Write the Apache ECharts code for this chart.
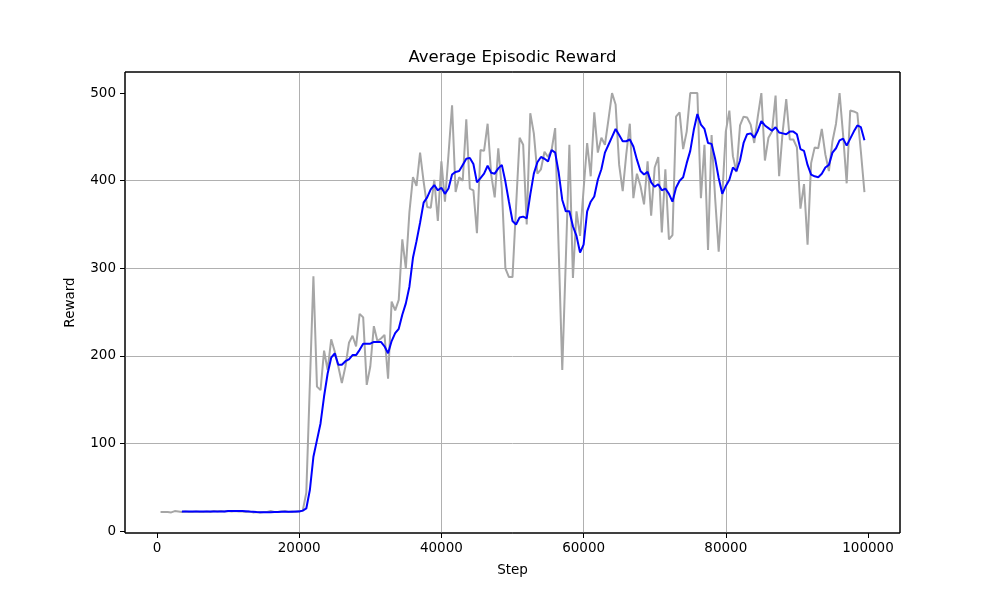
<!DOCTYPE html>
<html>
<head>
<meta charset="utf-8">
<title>Average Episodic Reward</title>
<script src="https://cdn.jsdelivr.net/npm/echarts@6/dist/echarts.min.js"></script>
<style>
  html, body { margin: 0; padding: 0; background: #fff; }
  #main { width: 1000px; height: 600px; }
</style>
</head>
<body>
<div id="main"></div>
<script>
var myChart = echarts.init(document.getElementById('main'));

// evaluation every 500 steps, first at 500
var rawStart = 500, smoothStart = 3500, stepEvery = 500;

// raw episodic reward (grey line), one row = 10000 steps
var rawReward = [
    22, 22, 22, 21.5, 23, 22.5, 22, 22.5, 22, 22, 22.5, 22, 22, 22.5, 22, 23, 22.5, 23, 22.5, 23,
    22.5, 23, 22.5, 22.5, 22, 22.5, 21.5, 22, 21.5, 22, 22, 23, 22, 22, 22.5, 23, 22, 22.5, 22, 23,
    23.5, 44, 168, 291, 165, 161, 206, 184, 219, 205, 188, 169, 188, 215, 223, 211, 248, 244, 167, 188,
    234, 217, 220, 224, 174, 262, 252, 264, 333, 300, 364, 404, 394, 432, 399, 370, 369, 401, 354, 422,
    376, 430, 486, 387, 404, 400, 470, 391, 389, 340, 435, 434, 465, 407, 381, 437, 391, 300, 290, 290,
    370, 449, 441, 350, 477, 454, 408, 413, 433, 427, 435, 460, 320, 184, 310, 441, 289, 365, 337, 390,
    443, 405, 478, 432, 449, 441, 470, 500, 487, 418, 388, 430, 465, 380, 408, 394, 373, 422, 360, 415,
    427, 341, 413, 333, 338, 473, 478, 436, 456, 500, 500, 500, 380, 441, 321, 452, 380, 319, 383, 456,
    480, 428, 410, 463, 473, 472, 464, 443, 473, 500, 423, 449, 456, 497, 405, 456, 493, 447, 447, 438,
    368, 396, 327, 420, 438, 437, 459, 430, 411, 445, 465, 500, 452, 397, 480, 479, 477, 433, 387
];

// smoothed reward (blue line), starts at 3500
var smoothReward = [
    22.5, 22.5, 22.5, 22.5, 22.5, 22.5, 22.5, 22.5, 22.5, 22.5, 22.5, 22.5, 22.5,
    23, 23, 23, 23, 23, 22.8, 22.5, 22.3, 22, 21.8, 21.6, 21.6, 21.8, 22, 22, 22.2, 22.3, 22.3, 22.3, 22.4, 22.5,
    23.5, 26, 47, 85, 104, 123, 154, 180, 198, 203, 190, 190, 194, 196, 201, 201, 207, 214, 214, 214,
    216, 216, 216, 211, 203, 217, 226, 231, 247, 260, 279, 312, 331, 352, 375, 381, 390, 395, 389, 392,
    385, 391, 407, 410, 411, 418, 425, 426, 419, 398, 403, 408, 417, 409, 408, 414, 418, 399, 376, 354,
    350, 358, 359, 357, 384, 408, 421, 427, 425, 422, 435, 432, 409, 378, 365, 365, 348, 337, 318, 327,
    365, 376, 382, 401, 413, 432, 441, 450, 459, 452, 445, 445, 447, 439, 424, 411, 407, 410, 398, 393,
    396, 389, 391, 385, 376, 392, 400, 404, 420, 434, 458, 476, 464, 459, 443, 442, 425, 403, 385, 394,
    401, 415, 411, 423, 443, 453, 454, 449, 457, 468, 463, 460, 457, 461, 455, 454, 453, 456, 456, 453,
    436, 434, 418, 407, 405, 404, 408, 415, 418, 432, 437, 446, 448, 440, 448, 456, 463, 461, 446
];

var xTicks = [0, 20000, 40000, 60000, 80000, 100000];
var yTicks = [0, 100, 200, 300, 400, 500];

function toPairs(start, values) {
    return values.map(function (v, i) {
        return [start + i * stepEvery, v];
    });
}

var font = 'DejaVu Sans';

option = {
    animation: false,
    backgroundColor: '#fff',
    grid: {
        left: 125,
        right: 100,
        top: 72,
        bottom: 67,
        show: true,
        borderColor: '#000',
        borderWidth: 1,
        backgroundColor: 'transparent'
    },
    graphic: [{
        type: 'text',
        style: {
            text: 'Average Episodic Reward',
            x: 512.5,
            y: 58,
            textAlign: 'center',
            textVerticalAlign: 'middle',
            fontFamily: font,
            fontSize: 16.5,
            fill: '#000'
        }
    }, {
        // axes frame drawn on top of grid lines
        type: 'rect',
        z: 100,
        shape: { x: 125, y: 72, width: 775, height: 461 },
        style: { fill: 'none', stroke: '#000', lineWidth: 1 }
    }],
    xAxis: {
        type: 'value',
        min: -4500,
        max: 104500,
        name: 'Step',
        nameLocation: 'middle',
        nameGap: 30,
        nameTextStyle: { fontFamily: font, fontSize: 13.5, color: '#000' },
        axisLine: { show: false, onZero: false },
        axisTick: {
            show: true, inside: false, length: 5,
            customValues: xTicks,
            lineStyle: { color: '#000', width: 1 }
        },
        axisLabel: {
            customValues: xTicks,
            margin: 8,
            formatter: function (v) { return String(v); },
            fontFamily: font, fontSize: 13.5, color: '#000'
        },
        splitLine: {
            show: true, showMinLine: false, showMaxLine: false,
            lineStyle: { color: '#b0b0b0', width: 1 }
        }
    },
    yAxis: {
        type: 'value',
        min: -2,
        max: 524,
        name: 'Reward',
        nameLocation: 'middle',
        nameGap: 48,
        nameTextStyle: { fontFamily: font, fontSize: 13.5, color: '#000' },
        axisLine: { show: false, onZero: false },
        axisTick: {
            show: true, inside: false, length: 5,
            customValues: yTicks,
            lineStyle: { color: '#000', width: 1 }
        },
        axisLabel: {
            customValues: yTicks,
            margin: 9,
            formatter: function (v) { return String(v); },
            fontFamily: font, fontSize: 13.5, color: '#000'
        },
        splitLine: {
            show: true, showMinLine: false, showMaxLine: false,
            lineStyle: { color: '#b0b0b0', width: 1 }
        }
    },
    series: [{
        name: 'raw',
        type: 'line',
        data: toPairs(rawStart, rawReward),
        showSymbol: false,
        symbol: 'none',
        lineStyle: { color: '#a6a6a6', width: 2 },
        z: 2
    }, {
        name: 'smoothed',
        type: 'line',
        data: toPairs(smoothStart, smoothReward),
        showSymbol: false,
        symbol: 'none',
        lineStyle: { color: '#0000ff', width: 2 },
        z: 3
    }]
};

myChart.setOption(option);
window.onresize = myChart.resize;
</script>
</body>
</html>
